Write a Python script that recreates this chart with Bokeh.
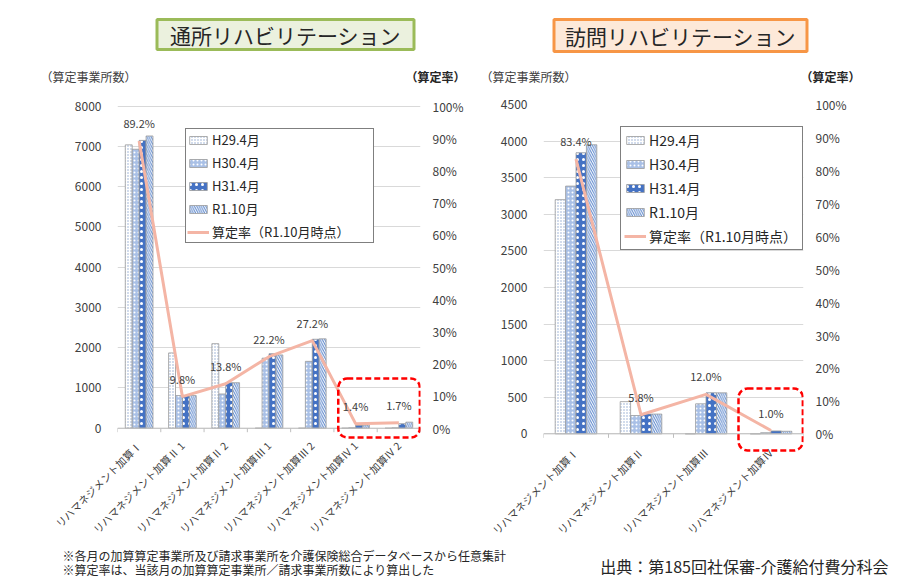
import math
from bokeh.plotting import figure
from bokeh.models import (FactorRange, Range1d, LinearAxis, FixedTicker, NumeralTickFormatter,
                          ColumnDataSource, Legend, LegendItem, Label, BoxAnnotation, Span)
from bokeh.transform import dodge
from bokeh.layouts import column, row
from bokeh.embed import file_html
from bokeh.resources import INLINE
from bokeh.core.properties import value

FONT = "Noto Sans CJK JP"

# ---------------- data ----------------
series_names = ["H29.4月", "H30.4月", "H31.4月", "R1.10月"]
rate_name = "算定率（R1.10月時点）"

tsusho_cats = ["リハマネジメント加算Ⅰ", "リハマネジメント加算Ⅱ 1", "リハマネジメント加算Ⅱ 2",
               "リハマネジメント加算Ⅲ 1", "リハマネジメント加算Ⅲ 2",
               "リハマネジメント加算Ⅳ 1", "リハマネジメント加算Ⅳ 2"]
tsusho_h29 = [7040, 1870, 2100, 0, 0, 0, 0]
tsusho_h30 = [6930, 810, 850, 1740, 1660, 10, 10]
tsusho_h31 = [7150, 810, 1130, 1850, 2210, 70, 110]
tsusho_r1 = [7260, 810, 1130, 1820, 2220, 75, 150]
tsusho_rate = [0.892, 0.098, 0.138, 0.222, 0.272, 0.014, 0.017]
tsusho_ticks = [0, 1000, 2000, 3000, 4000, 5000, 6000, 7000, 8000]

houmon_cats = ["リハマネジメント加算Ⅰ", "リハマネジメント加算Ⅱ",
               "リハマネジメント加算Ⅲ", "リハマネジメント加算Ⅳ"]
houmon_h29 = [3200, 440, 0, 0]
houmon_h30 = [3385, 250, 410, 15]
houmon_h31 = [3840, 270, 560, 40]
houmon_r1 = [3950, 270, 560, 35]
houmon_rate = [0.834, 0.058, 0.120, 0.010]
houmon_ticks = [0, 500, 1000, 1500, 2000, 2500, 3000, 3500, 4000, 4500]

rate_ticks = [0, 0.1, 0.2, 0.3, 0.4, 0.5, 0.6, 0.7, 0.8, 0.9, 1.0]

# ---------------- styles ----------------
bar_styles = [
    dict(fill_color="white", hatch_pattern="dot", hatch_color="#8FA6CF", hatch_scale=3, hatch_weight=1),
    dict(fill_color="#A9C0E6", hatch_pattern="dot", hatch_color="white", hatch_scale=4, hatch_weight=1),
    dict(fill_color="#4472C4", hatch_pattern="dot", hatch_color="white", hatch_scale=6, hatch_weight=0.8),
    dict(fill_color="white", hatch_pattern="left_diagonal_line", hatch_color="#5B86CC", hatch_scale=4.5, hatch_weight=1),
]
offsets = [-0.24, -0.08, 0.08, 0.24]
LINE_COLOR = "#F4B5A5"
TXT = "#404040"
AXIS_GRAY = "#BFBFBF"


def make_chart(cats, vals, rate, ticks, yrange, width, height, borders,
               legend_loc, legend_font, legend_pad, legend_lw, box_idx, box_y, xstandoff, tick_len):
    bl, br, bt, bb = borders
    top_tick = ticks[-1]
    p = figure(x_range=FactorRange(*cats), y_range=Range1d(*yrange),
               width=width, height=height, output_backend="svg", toolbar_location=None,
               min_border_left=bl, min_border_right=br, min_border_top=bt, min_border_bottom=bb)
    p.extra_y_ranges = {"pct": Range1d(yrange[0] / top_tick, yrange[1] / top_tick)}
    p.outline_line_color = None
    p.background_fill_color = "white"
    p.border_fill_color = "white"

    src = ColumnDataSource(dict(cat=cats, h29=vals[0], h30=vals[1], h31=vals[2], r1=vals[3],
                                rate=rate, lab=[f"{r*100:.1f}%" for r in rate]))
    # baseline at zero and category separator ticks
    p.add_layout(Span(location=0, dimension="width", line_color=AXIS_GRAY, line_width=1))
    bounds = list(range(len(cats) + 1))
    p.segment(x0=bounds, x1=bounds, y0=[0] * len(bounds), y1=[-tick_len] * len(bounds),
              line_color=AXIS_GRAY, line_width=1)

    rends = []
    for key, off, st in zip(["h29", "h30", "h31", "r1"], offsets, bar_styles):
        r = p.vbar(x=dodge("cat", off, range=p.x_range), top=key, bottom=0, width=0.16, source=src,
                   line_color="#9A9A9A", line_width=0.8, **st)
        rends.append(r)
    ln = p.line(x="cat", y="rate", source=src, y_range_name="pct", line_color=LINE_COLOR, line_width=3)
    p.text(x="cat", y="rate", text="lab", source=src, y_range_name="pct", y_offset=-18,
           text_align="center", text_baseline="middle", text_font=value(FONT),
           text_font_size="11px", text_color=TXT)

    # axes
    p.yaxis.ticker = FixedTicker(ticks=ticks)
    p.yaxis.axis_line_color = None
    p.yaxis.major_tick_line_color = None
    p.yaxis.minor_tick_line_color = None
    p.yaxis.major_label_text_font = FONT
    p.yaxis.major_label_text_font_size = "12px"
    p.yaxis.major_label_text_color = TXT
    p.yaxis.major_label_standoff = 10

    rax = LinearAxis(y_range_name="pct", ticker=FixedTicker(ticks=rate_ticks),
                     formatter=NumeralTickFormatter(format="0%"))
    rax.axis_line_color = None
    rax.major_tick_line_color = None
    rax.minor_tick_line_color = None
    rax.major_label_text_font = FONT
    rax.major_label_text_font_size = "12px"
    rax.major_label_text_color = TXT
    rax.major_label_standoff = 6
    p.add_layout(rax, "right")

    p.xaxis.axis_line_color = None
    p.xaxis.major_tick_line_color = None
    p.xaxis.major_tick_out = 0
    p.xaxis.major_tick_in = 0
    p.xaxis.major_label_orientation = math.pi / 4
    p.xaxis.major_label_text_font = FONT
    p.xaxis.major_label_text_font_size = "10.5px"
    p.xaxis.major_label_text_color = TXT
    p.xaxis.major_label_standoff = xstandoff

    p.xgrid.grid_line_color = None
    p.ygrid.ticker = FixedTicker(ticks=ticks)
    p.ygrid.grid_line_color = "#D9D9D9"

    # legend
    items = [LegendItem(label=n, renderers=[r]) for n, r in zip(series_names, rends)]
    items.append(LegendItem(label=rate_name, renderers=[ln]))
    lg = Legend(items=items, location=legend_loc, border_line_color="black", border_line_width=1,
                background_fill_color="white", background_fill_alpha=1,
                label_text_font=FONT, label_text_font_size=legend_font, label_text_color="#262626",
                glyph_width=22, glyph_height=10, label_height=17, label_width=legend_lw,
                spacing=4, padding=legend_pad, margin=0, label_standoff=3)
    p.add_layout(lg)

    # red dashed box around last group(s)
    p.add_layout(BoxAnnotation(left=box_idx[0], right=box_idx[1], bottom=box_y[0], top=box_y[1],
                               fill_alpha=0, line_color="#FF0000", line_alpha=1, line_width=2.5,
                               line_dash="6 3", border_radius=9))
    return p


# header with panel titles and axis titles
header = figure(width=900, height=90, x_range=Range1d(0, 900), y_range=Range1d(90, 0),
                output_backend="svg", toolbar_location=None, min_border=0)
header.axis.visible = False
header.grid.visible = False
header.outline_line_color = None
header.add_layout(Label(x=285, y=34, text="通所リハビリテーション", text_font=FONT, text_font_size="21px",
                        text_color="#262626", text_align="center", text_baseline="middle",
                        background_fill_color="#EBF1DE", border_line_color="#9BBB59",
                        border_line_width=3, padding=(13, 0)))
header.add_layout(Label(x=680, y=35, text="訪問リハビリテーション", text_font=FONT, text_font_size="21px",
                        text_color="#262626", text_align="center", text_baseline="middle",
                        background_fill_color="#FDE9D9", border_line_color="#F79646",
                        border_line_width=3, padding=(11, 1)))
for xx in (40, 480):
    header.add_layout(Label(x=xx, y=76, text="（算定事業所数）", text_font=FONT, text_font_size="12px",
                            text_color=TXT, text_align="left", text_baseline="middle"))
for xx in (405, 800):
    header.add_layout(Label(x=xx, y=76, text="（算定率）", text_font=FONT, text_font_size="12px",
                            text_color="#262626", text_font_style="bold", text_align="left",
                            text_baseline="middle"))

# both chart frames span y = 104..452 on the page; the value ranges are set so that
# the gridlines land where the reference has them
H = 456
left = make_chart(tsusho_cats, [tsusho_h29, tsusho_h30, tsusho_h31, tsusho_r1], tsusho_rate, tsusho_ticks,
                  (-604, 8042), 466, H, (117, 46, 14, 94),
                  (68, 209), "13px", 1, 160, (5.1, 6.985), (-231, 1235), -9, 100)
right = make_chart(houmon_cats, [houmon_h29, houmon_h30, houmon_h31, houmon_r1], houmon_rate, houmon_ticks,
                   (-255, 4500), 434, H, (77, 97, 14, 94),
                   (77, 202), "14px", 3, 150, (3.0, 3.99), (-228, 619), -2, 55)

footer = figure(width=900, height=32, x_range=Range1d(0, 900), y_range=Range1d(32, 0),
                output_backend="svg", toolbar_location=None, min_border=0)
footer.axis.visible = False
footer.grid.visible = False
footer.outline_line_color = None
footer.add_layout(Label(x=62, y=9, text="※各月の加算算定事業所及び請求事業所を介護保険総合データベースから任意集計",
                        text_font=FONT, text_font_size="12px", text_color="#262626", text_baseline="middle"))
footer.add_layout(Label(x=62, y=23, text="※算定率は、当該月の加算算定事業所／請求事業所数により算出した",
                        text_font=FONT, text_font_size="12px", text_color="#262626", text_baseline="middle"))
footer.add_layout(Label(x=888, y=19, text="出典：第185回社保審-介護給付費分科会",
                        text_font=FONT, text_font_size="16px", text_color="#262626",
                        text_align="right", text_baseline="middle"))

layout = column(header, row(left, right), footer)
open("out.html", "w").write(file_html(layout, INLINE))
